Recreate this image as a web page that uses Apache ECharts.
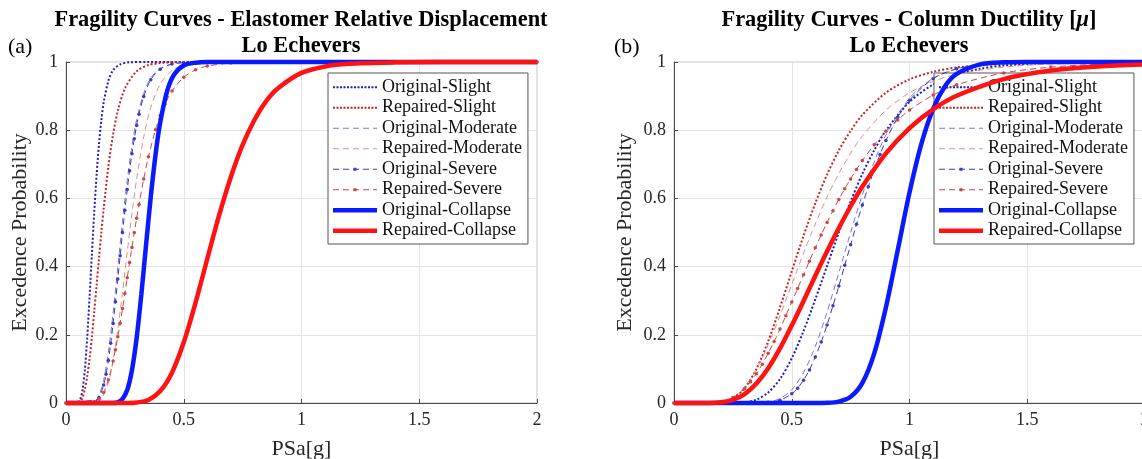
<!DOCTYPE html>
<html>
<head>
<meta charset="utf-8">
<script src="https://cdn.jsdelivr.net/npm/echarts@6/dist/echarts.min.js"></script>
<style>html,body{margin:0;padding:0;background:#fff}#c{width:1142px;height:459px}</style>
</head>
<body>
<div id="c"></div>
<script>
// ---------- DATA ----------
const seriesNames = ['Original-Slight','Repaired-Slight','Original-Moderate','Repaired-Moderate','Original-Severe','Repaired-Severe','Original-Collapse','Repaired-Collapse'];
const xTicks = [0, 0.5, 1, 1.5, 2];
const yTicks = [0, 0.2, 0.4, 0.6, 0.8, 1];

// (a) Elastomer relative displacement — [PSa, probability]
const elastOrigSlight = [[0,0],[0.05,0.002],[0.06,0.01],[0.07,0.038],[0.08,0.097],[0.09,0.191],[0.1,0.309],[0.11,0.437],[0.12,0.56],[0.13,0.669],[0.14,0.759],[0.15,0.829],[0.16,0.881],[0.18,0.945],[0.2,0.976],[0.23,0.993],[0.27,0.999],[0.35,1],[2,1]];
const elastRepSlight = [[0,0],[0.06,0.005],[0.08,0.04],[0.09,0.078],[0.1,0.13],[0.11,0.194],[0.12,0.268],[0.13,0.346],[0.14,0.424],[0.15,0.5],[0.16,0.571],[0.18,0.694],[0.2,0.788],[0.22,0.856],[0.25,0.922],[0.3,0.973],[0.35,0.991],[0.4,0.997],[0.5,1],[2,1]];
const elastOrigModerate = [[0,0],[0.12,0.004],[0.14,0.022],[0.16,0.067],[0.18,0.149],[0.2,0.264],[0.22,0.398],[0.24,0.533],[0.26,0.654],[0.28,0.753],[0.3,0.831],[0.33,0.908],[0.36,0.953],[0.4,0.981],[0.45,0.994],[0.5,0.998],[0.6,1],[2,1]];
const elastRepModerate = [[0,0],[0.13,0.003],[0.15,0.012],[0.18,0.059],[0.2,0.124],[0.22,0.215],[0.24,0.325],[0.26,0.442],[0.28,0.556],[0.3,0.657],[0.33,0.78],[0.36,0.866],[0.4,0.935],[0.45,0.975],[0.5,0.991],[0.6,0.999],[0.7,1],[2,1]];
const elastOrigSevere = [[0,0],[0.12,0.003],[0.14,0.016],[0.16,0.053],[0.17,0.084],[0.18,0.125],[0.19,0.175],[0.2,0.233],[0.21,0.297],[0.22,0.364],[0.23,0.432],[0.24,0.5],[0.25,0.565],[0.26,0.626],[0.27,0.681],[0.28,0.731],[0.29,0.775],[0.3,0.814],[0.31,0.847],[0.33,0.899],[0.36,0.948],[0.4,0.979],[0.45,0.994],[0.5,0.998],[0.6,1],[2,1]];
const elastRepSevere = [[0,0],[0.14,0.012],[0.16,0.031],[0.18,0.068],[0.2,0.123],[0.21,0.156],[0.22,0.194],[0.23,0.234],[0.24,0.277],[0.25,0.321],[0.26,0.367],[0.27,0.412],[0.28,0.456],[0.29,0.5],[0.3,0.542],[0.31,0.582],[0.33,0.657],[0.35,0.722],[0.38,0.801],[0.4,0.843],[0.42,0.876],[0.45,0.915],[0.5,0.955],[0.55,0.977],[0.6,0.988],[0.7,0.997],[0.8,0.999],[1,1],[2,1]];
const elastOrigCollapse = [[0,0],[0.2,0],[0.22,0.002],[0.24,0.012],[0.26,0.038],[0.28,0.096],[0.3,0.191],[0.32,0.319],[0.34,0.464],[0.36,0.605],[0.38,0.727],[0.4,0.822],[0.43,0.916],[0.46,0.964],[0.5,0.99],[0.55,0.998],[0.6,1],[2,1]];
const elastRepCollapse = [[0,0],[0.25,0],[0.3,0.0015],[0.35,0.009],[0.4,0.035],[0.45,0.089],[0.5,0.178],[0.55,0.294],[0.6,0.423],[0.65,0.55],[0.7,0.663],[0.75,0.757],[0.8,0.83],[0.85,0.885],[0.9,0.923],[1,0.968],[1.1,0.987],[1.2,0.995],[1.4,0.999],[1.6,1],[2,1]];

// (b) Column ductility — [PSa, probability]
const colOrigSlight = [[0,0],[0.25,0],[0.3,0.002],[0.35,0.01],[0.4,0.031],[0.45,0.07],[0.5,0.131],[0.55,0.211],[0.6,0.304],[0.65,0.402],[0.7,0.5],[0.75,0.591],[0.8,0.672],[0.85,0.741],[0.9,0.799],[1,0.883],[1.1,0.934],[1.2,0.964],[1.3,0.98],[1.4,0.99],[1.6,0.997],[1.8,0.999],[2,1]];
const colRepSlight = [[0,0],[0.2,0.002],[0.25,0.013],[0.3,0.044],[0.35,0.1],[0.4,0.181],[0.45,0.28],[0.5,0.386],[0.55,0.49],[0.6,0.586],[0.65,0.67],[0.7,0.741],[0.75,0.798],[0.8,0.845],[0.9,0.91],[1,0.949],[1.1,0.971],[1.2,0.984],[1.4,0.995],[1.6,0.998],[2,1]];
const colOrigModerate = [[0,0],[0.35,0.0005],[0.4,0.003],[0.45,0.013],[0.5,0.039],[0.55,0.089],[0.6,0.166],[0.65,0.267],[0.7,0.382],[0.75,0.5],[0.8,0.611],[0.85,0.707],[0.9,0.786],[1,0.894],[1.1,0.952],[1.2,0.979],[1.3,0.992],[1.4,0.997],[1.6,1],[2,1]];
const colRepModerate = [[0,0],[0.2,0.004],[0.25,0.017],[0.3,0.047],[0.35,0.099],[0.4,0.171],[0.45,0.256],[0.5,0.347],[0.55,0.439],[0.6,0.525],[0.65,0.604],[0.7,0.673],[0.75,0.733],[0.8,0.783],[0.9,0.859],[1,0.91],[1.1,0.943],[1.2,0.964],[1.4,0.985],[1.6,0.994],[1.8,0.9975],[2,0.999]];
const colOrigSevere = [[0,0],[0.35,0.0002],[0.4,0.002],[0.45,0.008],[0.5,0.027],[0.525,0.0435],[0.55,0.067],[0.575,0.097],[0.6,0.135],[0.625,0.179],[0.65,0.229],[0.675,0.285],[0.7,0.343],[0.725,0.404],[0.75,0.464],[0.775,0.524],[0.8,0.581],[0.825,0.634],[0.85,0.684],[0.875,0.729],[0.9,0.77],[0.95,0.838],[1,0.888],[1.1,0.951],[1.2,0.98],[1.3,0.992],[1.4,0.997],[1.6,1],[2,1]];
const colRepSevere = [[0,0],[0.2,0.004],[0.25,0.016],[0.3,0.042],[0.325,0.062],[0.35,0.086],[0.375,0.114],[0.4,0.146],[0.425,0.18],[0.45,0.217],[0.475,0.256],[0.5,0.296],[0.525,0.336],[0.55,0.376],[0.575,0.416],[0.6,0.455],[0.625,0.493],[0.65,0.529],[0.675,0.564],[0.7,0.597],[0.725,0.628],[0.75,0.657],[0.775,0.685],[0.8,0.711],[0.85,0.757],[0.9,0.797],[0.95,0.83],[1,0.859],[1.1,0.903],[1.2,0.933],[1.4,0.968],[1.6,0.985],[1.8,0.993],[2,0.996]];
const colOrigCollapse = [[0,0],[0.6,0],[0.65,0.0005],[0.7,0.004],[0.75,0.018],[0.8,0.059],[0.85,0.145],[0.9,0.281],[0.95,0.448],[1,0.617],[1.05,0.759],[1.1,0.862],[1.15,0.928],[1.2,0.965],[1.3,0.993],[1.4,0.999],[1.5,1],[2,1]];
const colRepCollapse = [[0,0],[0.15,0],[0.2,0.002],[0.25,0.009],[0.3,0.026],[0.35,0.057],[0.4,0.102],[0.45,0.16],[0.5,0.227],[0.55,0.299],[0.6,0.373],[0.65,0.445],[0.7,0.513],[0.75,0.577],[0.8,0.635],[0.9,0.732],[1,0.806],[1.1,0.861],[1.2,0.901],[1.4,0.95],[1.6,0.975],[1.8,0.987],[2,0.993]];

const elastSeries = [elastOrigSlight, elastRepSlight, elastOrigModerate, elastRepModerate, elastOrigSevere, elastRepSevere, elastOrigCollapse, elastRepCollapse];
const colSeries = [colOrigSlight, colRepSlight, colOrigModerate, colRepModerate, colOrigSevere, colRepSevere, colOrigCollapse, colRepCollapse];

// ---------- STYLE ----------
const FONT = "'Liberation Serif','Times New Roman',serif";
const styles = [
  {color:'#1f1fbc', type:'dotted', width:2, marker:false, icon:'dotted'},
  {color:'#c42626', type:'dotted', width:2, marker:false, icon:'dotted'},
  {color:'#7a7ad6', type:[6,4], width:1, marker:false, icon:'dashed'},
  {color:'#e88c8c', type:[6,4], width:1, marker:false, icon:'dashed'},
  {color:'#3a3ac6', type:[6,4], width:1, marker:true, icon:'dashdot'},
  {color:'#d04646', type:[6,4], width:1, marker:true, icon:'dashdot'},
  {color:'#0a1aff', type:'solid', width:4.5, marker:false, icon:'solid'},
  {color:'#ff1212', type:'solid', width:4.5, marker:false, icon:'solid'}
];

function iconPath(kind){
  const W = 44; let s = '';
  if (kind === 'dotted') {
    for (let x = 0; x + 2 <= W; x += 3.4) s += 'M' + x.toFixed(2) + ',0h2v2h-2z';
  } else if (kind === 'dashed') {
    for (let x = 0; x < W; x += 10) s += 'M' + x + ',0h' + Math.min(6, W - x) + 'v1.2h' + (-Math.min(6, W - x)) + 'z';
  } else if (kind === 'dashdot') {
    for (let x = 0; x < W; x += 10) s += 'M' + x + ',1h' + Math.min(6, W - x) + 'v1.2h' + (-Math.min(6, W - x)) + 'z';
    s += 'M20.5,0h3v3.2h-3z';
  } else {
    s = 'M0,0h44v4.5h-44z';
  }
  return 'path://' + s;
}

function makeSeries(list, gi){
  return list.map((data, i) => {
    const st = styles[i];
    return {
      name: seriesNames[i], type: 'line', xAxisIndex: gi, yAxisIndex: gi,
      data: data, smooth: 0.3, clip: false,
      symbol: st.marker ? 'circle' : 'none', symbolSize: 3.5, showSymbol: st.marker, showAllSymbol: true,
      itemStyle: {color: st.color},
      lineStyle: {color: st.color, width: st.width, type: st.type},
      emphasis: {disabled: true}, silent: true, z: 2 + i
    };
  });
}

function legendFor(left){
  return {
    orient: 'vertical', left: left, top: 73,
    padding: [4, 6, 3, 5], itemGap: 0, itemWidth: 44, itemHeight: 14,
    backgroundColor: '#fff', borderColor: '#555', borderWidth: 1,
    selectedMode: false,
    textStyle: {fontFamily: FONT, fontSize: 18, color: '#111', lineHeight: 20.5},
    itemStyle: {borderWidth: 0},
    data: seriesNames.map((n, i) => ({name: n, icon: iconPath(styles[i].icon), itemStyle: {color: styles[i].color, borderWidth: 0}}))
  };
}

function xAxisFor(gi){
  return {
    type: 'value', gridIndex: gi, min: xTicks[0], max: xTicks[xTicks.length-1], interval: 0.5,
    name: 'PSa[g]', nameLocation: 'middle', nameGap: 35,
    nameTextStyle: {fontFamily: FONT, fontSize: 22, color: '#262626'},
    axisLine: {show: true, lineStyle: {color: '#4a4a4a', width: 1}},
    axisTick: {show: true, inside: true, length: 4, lineStyle: {color: '#4a4a4a'}},
    axisLabel: {fontFamily: FONT, fontSize: 18, color: '#262626', margin: 8, hideOverlap: false},
    splitLine: {show: true, lineStyle: {color: '#e4e4e4', width: 1}}
  };
}
function yAxisFor(gi, gap){
  return {
    type: 'value', gridIndex: gi, min: yTicks[0], max: yTicks[yTicks.length-1], interval: 0.2,
    name: 'Excedence Probability', nameLocation: 'middle', nameGap: gap,
    nameTextStyle: {fontFamily: FONT, fontSize: 22, color: '#262626'},
    axisLine: {show: true, lineStyle: {color: '#4a4a4a', width: 1}},
    axisTick: {show: true, inside: true, length: 4, lineStyle: {color: '#4a4a4a'}},
    axisLabel: {fontFamily: FONT, fontSize: 18, color: '#262626', margin: 8},
    splitLine: {show: true, lineStyle: {color: '#e4e4e4', width: 1}}
  };
}

const titleRich = {
  b: {fontFamily: FONT, fontSize: 22.4, fontWeight: 'bold', color: '#000', lineHeight: 26},
  i: {fontFamily: FONT, fontSize: 22.4, fontWeight: 'bold', fontStyle: 'italic', color: '#000', lineHeight: 26}
};

const option = {
  animation: false,
  backgroundColor: '#fff',
  title: [
    {text: '{b|Fragility Curves - Elastomer Relative Displacement}\n{b|Lo Echevers}', left: 301, top: 7, textAlign: 'center', padding: 0,
     textStyle: {rich: titleRich}},
    {text: '{b|Fragility Curves - Column Ductility [}{i|μ}{b|]}\n{b|Lo Echevers}', left: 909, top: 7, textAlign: 'center', padding: 0,
     textStyle: {rich: titleRich}},
    {text: '(a)', left: 8, top: 36, padding: 0, textStyle: {fontFamily: FONT, fontSize: 22, fontWeight: 'normal', color: '#000'}},
    {text: '(b)', left: 614, top: 36, padding: 0, textStyle: {fontFamily: FONT, fontSize: 22, fontWeight: 'normal', color: '#000'}}
  ],
  grid: [
    {left: 66, top: 62, width: 471, height: 341, show: true, borderColor: '#c4c4c4', borderWidth: 1, backgroundColor: 'transparent', containLabel: false, outerBoundsMode: 'none'},
    {left: 674, top: 62, width: 471, height: 341, show: true, borderColor: '#c4c4c4', borderWidth: 1, backgroundColor: 'transparent', containLabel: false, outerBoundsMode: 'none'}
  ],
  legend: [legendFor(328), legendFor(934)],
  xAxis: [xAxisFor(0), xAxisFor(1)],
  yAxis: [yAxisFor(0, 35), yAxisFor(1, 38)],
  series: makeSeries(elastSeries, 0).concat(makeSeries(colSeries, 1))
};

const chart = echarts.init(document.getElementById('c'), null, {renderer: 'canvas'});
chart.setOption(option);
</script>
</body>
</html>
